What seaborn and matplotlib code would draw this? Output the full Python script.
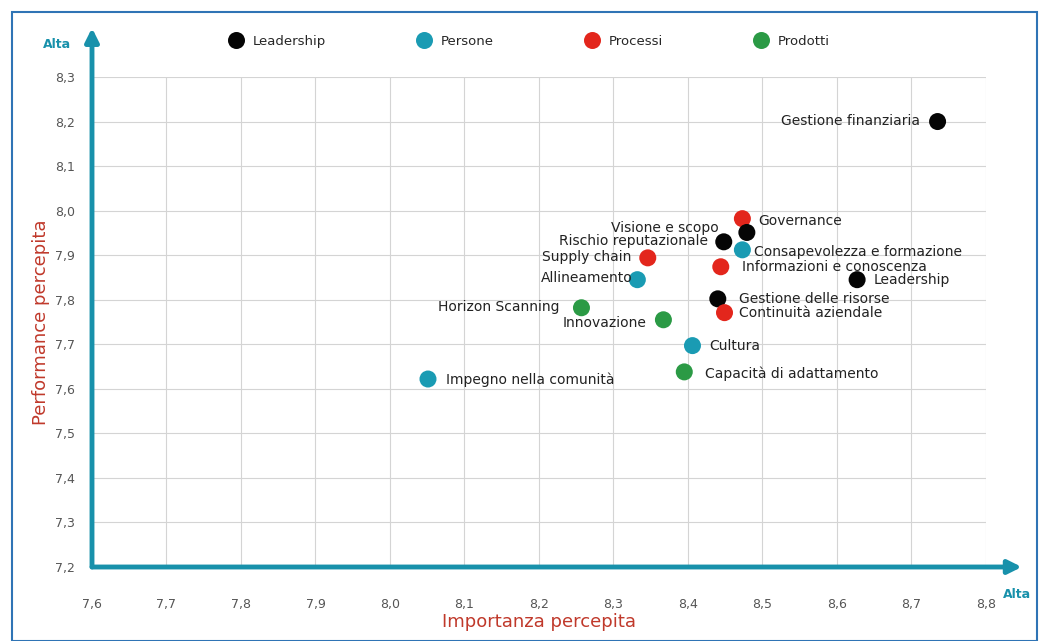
import matplotlib
matplotlib.use("Agg")
import matplotlib.pyplot as plt
from matplotlib.patches import Rectangle
import seaborn as sns
import pandas as pd

# dati
voci = ["Gestione finanziaria", "Governance", "Visione e scopo", "Rischio reputazionale",
        "Consapevolezza e formazione", "Supply chain", "Informazioni e conoscenza",
        "Allineamento", "Leadership", "Gestione delle risorse", "Continuità aziendale",
        "Horizon Scanning", "Innovazione", "Cultura", "Capacità di adattamento",
        "Impegno nella comunità"]
importanza = [8.735, 8.473, 8.479, 8.448, 8.473, 8.346, 8.444, 8.332, 8.627, 8.440,
              8.449, 8.257, 8.367, 8.406, 8.395, 8.051]
performance = [8.200, 7.982, 7.951, 7.930, 7.912, 7.894, 7.874, 7.845, 7.845, 7.802,
               7.771, 7.782, 7.755, 7.697, 7.638, 7.622]
area = ["Leadership", "Processi", "Leadership", "Leadership", "Persone", "Processi",
        "Processi", "Persone", "Leadership", "Leadership", "Processi", "Prodotti",
        "Prodotti", "Persone", "Prodotti", "Persone"]
aree = ["Leadership", "Persone", "Processi", "Prodotti"]
x_ticks = [7.6, 7.7, 7.8, 7.9, 8.0, 8.1, 8.2, 8.3, 8.4, 8.5, 8.6, 8.7, 8.8]
y_ticks = [7.2, 7.3, 7.4, 7.5, 7.6, 7.7, 7.8, 7.9, 8.0, 8.1, 8.2, 8.3]

colori = {"Leadership": "#050505", "Persone": "#1a9bb3", "Processi": "#e3261c", "Prodotti": "#2b9a45"}
teal = "#1891ab"
rosso_lbl = "#c0392b"

# posizione delle etichette (offset in pixel, allineamento)
offset = {
    "Gestione finanziaria": (-18, 1, "right"),
    "Governance": (16, -2, "left"),
    "Visione e scopo": (-28, 4, "right"),
    "Rischio reputazionale": (-16, 1, "right"),
    "Consapevolezza e formazione": (12, -2, "left"),
    "Supply chain": (-16, 1, "right"),
    "Informazioni e conoscenza": (21, 0, "left"),
    "Allineamento": (-5, 2, "right"),
    "Leadership": (17, 0, "left"),
    "Gestione delle risorse": (21, 0, "left"),
    "Continuità aziendale": (14, 0, "left"),
    "Horizon Scanning": (-22, 1, "right"),
    "Innovazione": (-17, -3, "right"),
    "Cultura": (17, 0, "left"),
    "Capacità di adattamento": (21, -2, "left"),
    "Impegno nella comunità": (18, -1, "left"),
}

df = pd.DataFrame({"voce": voci, "Importanza": importanza, "Performance": performance, "Area": area})

sns.set_style("white")
plt.rcParams["font.family"] = ["DejaVu Sans"]

fig = plt.figure(figsize=(10.41, 6.41), dpi=100)
ax = fig.add_axes([92 / 1041, 1 - 567 / 641, 894 / 1041, 490 / 641])

sns.scatterplot(data=df, x="Importanza", y="Performance", hue="Area", hue_order=aree,
                palette=colori, s=150, linewidth=0, ax=ax, zorder=5, clip_on=False)

ax.set_xlim(7.6, 8.8)
ax.set_ylim(7.2, 8.3)
ax.set_xticks(x_ticks)
ax.set_yticks(y_ticks)
ax.set_xticklabels([f"{t:.1f}".replace(".", ",") for t in x_ticks], fontsize=9, color="#555555")
ax.set_yticklabels([f"{t:.1f}".replace(".", ",") for t in y_ticks], fontsize=9, color="#555555")
ax.tick_params(axis="x", length=0, pad=22)
ax.tick_params(axis="y", length=0, pad=12)
ax.grid(True, color="#d4d4d4", linewidth=0.8)
for s in ax.spines.values():
    s.set_visible(False)

ax.set_xlabel("Importanza percepita", fontsize=13, color=rosso_lbl, labelpad=2)
ax.set_ylabel("Performance percepita", fontsize=13, color=rosso_lbl, labelpad=4)

# assi a freccia
ax.annotate("", xy=(1.04, 0), xytext=(0, 0), xycoords="axes fraction",
            arrowprops=dict(arrowstyle="-|>,head_length=0.8,head_width=0.4", color=teal, lw=3.5,
                            shrinkA=0, shrinkB=0), annotation_clip=False)
ax.annotate("", xy=(0, 1.1), xytext=(0, 0), xycoords="axes fraction",
            arrowprops=dict(arrowstyle="-|>,head_length=0.8,head_width=0.4", color=teal, lw=3.5,
                            shrinkA=0, shrinkB=0), annotation_clip=False)
fig.text(57 / 1041, 1 - 45 / 641, "Alta", color=teal, fontsize=9, fontweight="bold", ha="center", va="center")
fig.text(1017 / 1041, 1 - 594 / 641, "Alta", color=teal, fontsize=9, fontweight="bold", ha="center", va="center")

for v, xv, yv in zip(voci, importanza, performance):
    dx, dy, ha = offset[v]
    ax.annotate(v, (xv, yv), xytext=(dx, dy), textcoords="offset pixels", ha=ha, va="center",
                fontsize=10, color="#222222", zorder=6)

sns.move_legend(ax, "center left", bbox_to_anchor=(0.133, 1.073), ncol=4, frameon=False,
                title=None, fontsize=9.5, columnspacing=6.4, handletextpad=0.3, markerscale=1.0)

fig.add_artist(Rectangle((12 / 1041, 0), 1025 / 1041, 1 - 12 / 641, transform=fig.transFigure,
                         fill=False, edgecolor="#2f74b5", linewidth=1.5))

fig.savefig("out.png", dpi=100)
